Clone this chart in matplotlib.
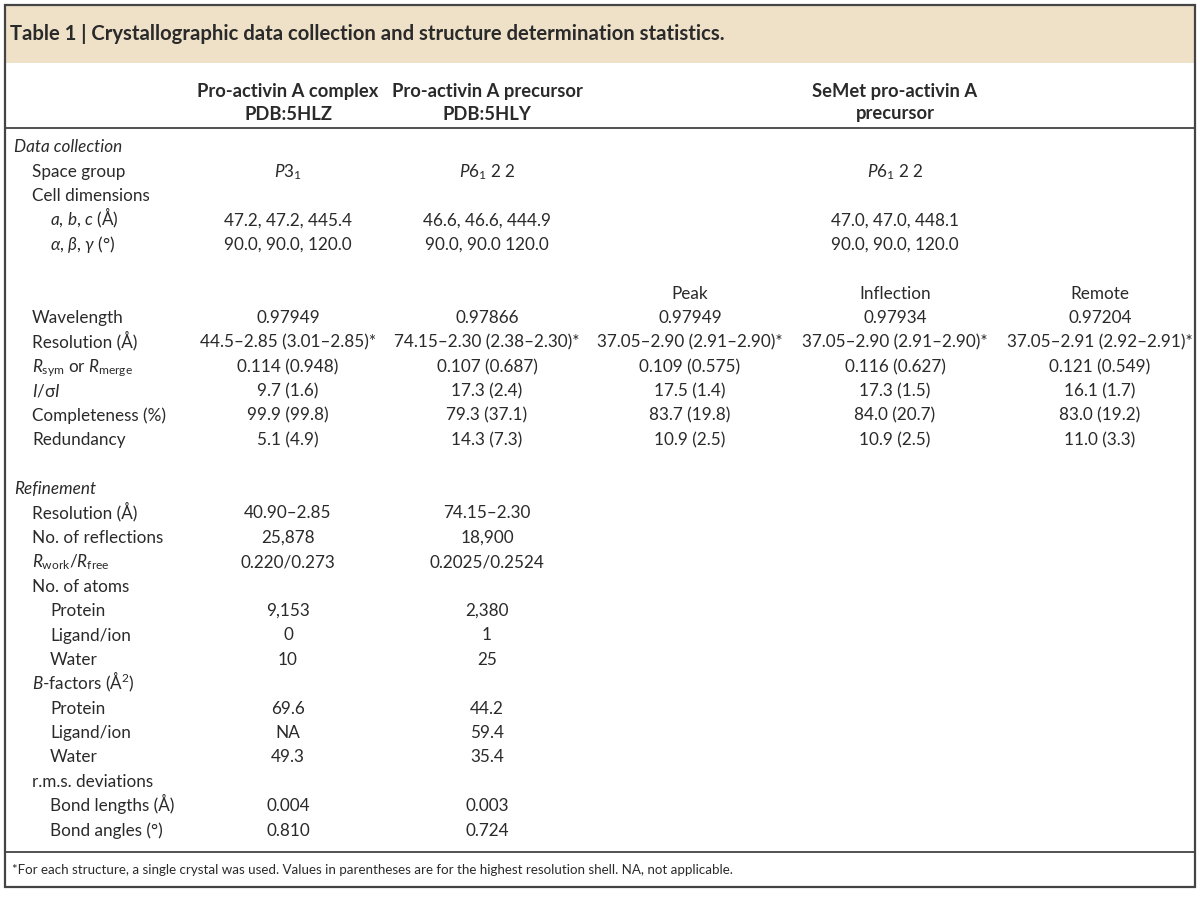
import matplotlib
matplotlib.use('Agg')
import matplotlib.pyplot as plt
from matplotlib.patches import Rectangle

plt.rcParams['font.family'] = ['Lato', 'DejaVu Sans']
plt.rcParams['mathtext.fontset'] = 'custom'
plt.rcParams['mathtext.rm'] = 'Lato'
plt.rcParams['mathtext.it'] = 'Lato:italic'
plt.rcParams['mathtext.bf'] = 'Lato:bold'

title = 'Table 1 | Crystallographic data collection and structure determination statistics.'
col_headers = [('Pro-activin A complex', 'PDB:5HLZ'),
               ('Pro-activin A precursor', 'PDB:5HLY')]
semet_header = ('SeMet pro-activin A', 'precursor')
semet_sub = ['Peak', 'Inflection', 'Remote']

# label text, indent level (0 = italic section title); None = blank row
row_labels = [
    ('Data collection', 0),
    ('Space group', 1),
    ('Cell dimensions', 1),
    ('$a$, $b$, $c$ (Å)', 2),
    (r'$\alpha$, $\beta$, $\gamma$ (°)', 2),
    None,
    ('', 1),
    ('Wavelength', 1),
    ('Resolution (Å)', 1),
    (r'$R_{\mathrm{sym}}$ or $R_{\mathrm{merge}}$', 1),
    ('$I$/σ$I$', 1),
    ('Completeness (%)', 1),
    ('Redundancy', 1),
    None,
    ('Refinement', 0),
    ('Resolution (Å)', 1),
    ('No. of reflections', 1),
    (r'$R_{\mathrm{work}}$/$R_{\mathrm{free}}$', 1),
    ('No. of atoms', 1),
    ('Protein', 2),
    ('Ligand/ion', 2),
    ('Water', 2),
    ('$B$-factors (Å$^{2}$)', 1),
    ('Protein', 2),
    ('Ligand/ion', 2),
    ('Water', 2),
    ('r.m.s. deviations', 1),
    ('Bond lengths (Å)', 2),
    ('Bond angles (°)', 2),
]

complex_vals = ['', '$P3_{1}$', '', '47.2, 47.2, 445.4', '90.0, 90.0, 120.0', '', '',
                '0.97949', '44.5–2.85 (3.01–2.85)*', '0.114 (0.948)', '9.7 (1.6)',
                '99.9 (99.8)', '5.1 (4.9)', '', '',
                '40.90–2.85', '25,878', '0.220/0.273', '', '9,153', '0', '10', '',
                '69.6', 'NA', '49.3', '', '0.004', '0.810']
precursor_vals = ['', '$P6_{1}$ 2 2', '', '46.6, 46.6, 444.9', '90.0, 90.0 120.0', '', '',
                  '0.97866', '74.15–2.30 (2.38–2.30)*', '0.107 (0.687)', '17.3 (2.4)',
                  '79.3 (37.1)', '14.3 (7.3)', '', '',
                  '74.15–2.30', '18,900', '0.2025/0.2524', '', '2,380', '1', '25', '',
                  '44.2', '59.4', '35.4', '', '0.003', '0.724']
# SeMet shared rows (space group, cell dimensions)
semet_shared = ['', '$P6_{1}$ 2 2', '', '47.0, 47.0, 448.1', '90.0, 90.0, 120.0']
peak_vals = ['0.97949', '37.05–2.90 (2.91–2.90)*', '0.109 (0.575)', '17.5 (1.4)',
             '83.7 (19.8)', '10.9 (2.5)']
inflection_vals = ['0.97934', '37.05–2.90 (2.91–2.90)*', '0.116 (0.627)', '17.3 (1.5)',
                   '84.0 (20.7)', '10.9 (2.5)']
remote_vals = ['0.97204', '37.05–2.91 (2.92–2.91)*', '0.121 (0.549)', '16.1 (1.7)',
               '83.0 (19.2)', '11.0 (3.3)']

footnote = ('*For each structure, a single crystal was used. Values in parentheses are for '
            'the highest resolution shell. NA, not applicable.')

txt = '#2a2a2a'
fs = 12.3
base = 5.5  # baseline sits this far below the row's visual centre


def put(x, y, s, **kw):
    kw.setdefault('fontsize', fs)
    kw.setdefault('color', txt)
    ax.text(x, y + base, s, va='baseline', **kw)


fig = plt.figure(figsize=(12, 8.98), dpi=100)
ax = fig.add_axes([0, 0, 1, 1])
ax.set_xlim(0, 1200)
ax.set_ylim(898, 0)
ax.axis('off')

# frame and title band
ax.add_patch(Rectangle((5, 5), 1190, 58, facecolor='#EFE1C8', edgecolor='none'))
ax.add_patch(Rectangle((5, 5), 1190, 882, facecolor='none', edgecolor='#444444', lw=1.6))
ax.plot([5, 1195], [128, 128], color='#444444', lw=1.3)
ax.plot([5, 1195], [852, 852], color='#444444', lw=1.3)

put(10, 34, title, fontsize=14.6, fontweight='bold')

col_x = [288, 487]
sub_x = [690, 895, 1100]
for x, (h1, h2) in zip(col_x, col_headers):
    put(x, 92, h1, fontsize=13.2, fontweight='bold', ha='center')
    put(x, 114, h2, fontsize=13.2, fontweight='bold', ha='center')
put(sub_x[1], 92, semet_header[0], fontsize=13.2, fontweight='bold', ha='center')
put(sub_x[1], 114, semet_header[1], fontsize=13.2, fontweight='bold', ha='center')

y0, dy = 147, 24.4
indent_x = [14, 32, 50]
for i, row in enumerate(row_labels):
    if row is None:
        continue
    y = y0 + i * dy
    label, lvl = row
    put(indent_x[lvl], y, label, style='italic' if lvl == 0 else 'normal')
    for x, vals in zip(col_x, [complex_vals, precursor_vals]):
        if vals[i]:
            put(x, y, vals[i], ha='center')

for i, v in enumerate(semet_shared):
    if v:
        put(sub_x[1], y0 + i * dy, v, ha='center')

for x, name, vals in zip(sub_x, semet_sub, [peak_vals, inflection_vals, remote_vals]):
    put(x, y0 + 6 * dy, name, ha='center')
    for k, v in enumerate(vals):
        put(x, y0 + (7 + k) * dy, v, ha='center')

put(12, 869, footnote, fontsize=9.6)

fig.savefig('out.png', dpi=100)
